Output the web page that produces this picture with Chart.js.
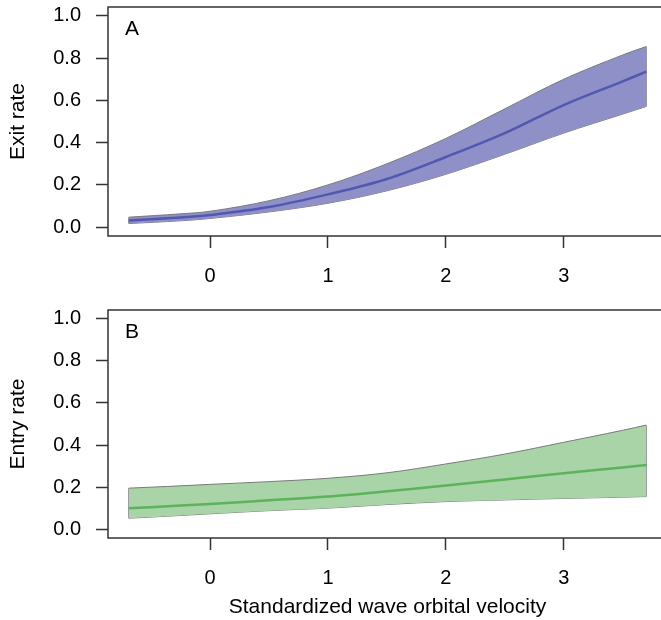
<!DOCTYPE html>
<html>
<head>
<meta charset="utf-8">
<script src="https://cdn.jsdelivr.net/npm/chart.js@4"></script>
<style>
html,body{margin:0;padding:0;background:#fff;overflow:hidden;width:661px;height:620px;}
canvas{position:absolute;left:0;}
#cA{top:0;}
#cB{top:300px;}
</style>
</head>
<body>
<canvas id="cA" width="700" height="300"></canvas>
<canvas id="cB" width="700" height="320"></canvas>
<script>
// Data
const xVals = [-0.69, -0.25, 0, 0.5, 1, 1.5, 2, 2.5, 3, 3.5, 3.7];

const exitMean  = [0.031, 0.046, 0.057, 0.095, 0.155, 0.228, 0.332, 0.445, 0.578, 0.690, 0.736];
const exitUpper = [0.047, 0.063, 0.075, 0.125, 0.200, 0.300, 0.420, 0.560, 0.700, 0.815, 0.855];
const exitLower = [0.017, 0.030, 0.041, 0.072, 0.113, 0.172, 0.250, 0.345, 0.445, 0.535, 0.571];

const entryMean  = [0.100, 0.112, 0.120, 0.137, 0.155, 0.180, 0.208, 0.236, 0.266, 0.293, 0.305];
const entryUpper = [0.195, 0.206, 0.213, 0.226, 0.242, 0.268, 0.310, 0.357, 0.413, 0.470, 0.495];
const entryLower = [0.052, 0.065, 0.073, 0.088, 0.100, 0.117, 0.131, 0.139, 0.146, 0.152, 0.155];

const xTicks = [0, 1, 2, 3];
const yTicks = [0, 0.2, 0.4, 0.6, 0.8, 1.0];

const FONT = "'Liberation Sans', Arial, sans-serif";
const AXIS_COLOR = '#333333';

function pts(ys) { return xVals.map((x, i) => ({x: x, y: ys[i]})); }
function edge(i, lo, hi) { return [{x: xVals[i], y: lo[i]}, {x: xVals[i], y: hi[i]}]; }

function makeChart(id, cfg) {
  const framePlugin = {
    id: 'frame' + id,
    afterDraw(chart) {
      const {ctx, chartArea: a} = chart;
      ctx.save();
      ctx.strokeStyle = AXIS_COLOR;
      ctx.lineWidth = 1.5;
      ctx.strokeRect(a.left, a.top, a.right - a.left, a.bottom - a.top);
      ctx.fillStyle = '#000';
      ctx.font = '21px ' + FONT;
      ctx.textAlign = 'left';
      ctx.textBaseline = 'alphabetic';
      ctx.fillText(cfg.panel, a.left + 17, a.top + 28);
      ctx.restore();
    }
  };
  const bandBorder = '#7a7a7a';
  const T = 0.35;
  return new Chart(document.getElementById(id), {
    type: 'line',
    data: {
      datasets: [
        {data: pts(cfg.mean), borderColor: cfg.lineColor, borderWidth: 2.5, pointRadius: 0,
         tension: T, fill: false, order: 0},
        {data: pts(cfg.upper), borderColor: bandBorder, borderWidth: 1, pointRadius: 0,
         tension: T, fill: '+1', backgroundColor: cfg.fillColor, order: 1},
        {data: pts(cfg.lower), borderColor: bandBorder, borderWidth: 1, pointRadius: 0,
         tension: T, fill: false, order: 1},
        {data: edge(0, cfg.lower, cfg.upper), borderColor: bandBorder, borderWidth: 1, pointRadius: 0, fill: false, order: 1},
        {data: edge(xVals.length - 1, cfg.lower, cfg.upper), borderColor: bandBorder, borderWidth: 1, pointRadius: 0, fill: false, order: 1}
      ]
    },
    options: {
      responsive: false,
      animation: false,
      devicePixelRatio: 1,
      layout: {padding: {left: 0, top: cfg.padTop, right: 33, bottom: 0}},
      plugins: {legend: {display: false}, tooltip: {enabled: false}},
      scales: {
        x: {
          type: 'linear', min: -0.866, max: 3.876,
          afterBuildTicks: ax => { ax.ticks = xTicks.map(v => ({value: v})); },
          afterFit: ax => { ax.height = cfg.xHeight; ax.paddingLeft = 0; ax.paddingRight = 0; },
          grid: {drawOnChartArea: false, tickLength: 12, tickColor: AXIS_COLOR, tickWidth: 1.5},
          border: {display: false},
          ticks: {color: '#000', font: {family: FONT, size: 20}, padding: 16, maxRotation: 0,
                  callback: v => String(v)},
          title: cfg.xTitle ? {display: true, text: cfg.xTitle, color: '#000',
                  font: {family: FONT, size: 21}, padding: {top: 0, bottom: 0}} : {display: false}
        },
        y: {
          type: 'linear', min: -0.042, max: 1.042,
          afterBuildTicks: ax => { ax.ticks = yTicks.map(v => ({value: v})); },
          afterFit: ax => { ax.width = 108; ax.paddingTop = 0; ax.paddingBottom = 0; },
          grid: {drawOnChartArea: false, tickLength: 12, tickColor: AXIS_COLOR, tickWidth: 1.5},
          border: {display: false},
          ticks: {color: '#000', font: {family: FONT, size: 20}, padding: 15,
                  callback: v => Number(v).toFixed(1)},
          title: {display: true, text: cfg.yTitle, color: '#000',
                  font: {family: FONT, size: 21}, padding: {top: 6, bottom: 0}}
        }
      }
    },
    plugins: [framePlugin]
  });
}

makeChart('cA', {panel: 'A', mean: exitMean, upper: exitUpper, lower: exitLower,
  lineColor: '#5058b0', fillColor: '#9090c8', yTitle: 'Exit rate', xTitle: null,
  padTop: 7, xHeight: 64});
makeChart('cB', {panel: 'B', mean: entryMean, upper: entryUpper, lower: entryLower,
  lineColor: '#5cb35c', fillColor: '#a8d4a8', yTitle: 'Entry rate',
  xTitle: 'Standardized wave orbital velocity', padTop: 10, xHeight: 82});
</script>
</body>
</html>
